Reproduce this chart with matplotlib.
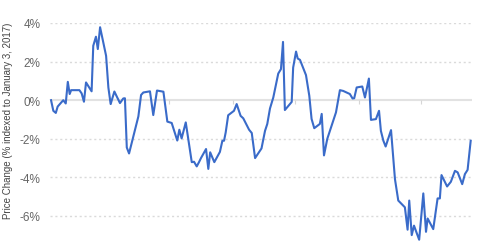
import matplotlib
matplotlib.use("Agg")
import matplotlib.pyplot as plt

# days since January 3, 2017 and price change (%)
days = [0.0, 1.1, 2.3, 3.2, 5.9, 7.1, 8.1, 9.0, 9.7, 13.7, 14.8, 15.9, 16.9, 19.6,
        20.4, 21.7, 22.6, 23.7, 26.6, 27.7, 28.8, 30.6, 33.3, 34.9, 35.7, 36.6,
        37.7, 42.2, 43.5, 44.6, 47.8, 49.4, 51.2, 54.3, 56.2, 58.3, 61.0, 62.0,
        63.1, 65.1, 68.0, 69.1, 70.4, 71.5, 72.5, 74.9, 76.0, 76.9, 78.9, 81.6,
        82.8, 83.6, 84.4, 85.6, 88.4, 89.7, 91.6, 92.9, 95.7, 97.0, 98.6, 101.7,
        103.4, 104.5, 105.8, 107.4, 109.8, 111.1, 112.1, 113.0, 116.3, 117.0,
        118.4, 119.2, 120.3, 123.2, 124.8, 125.9, 127.2, 129.9, 130.8, 131.9,
        133.5, 137.7, 139.6, 141.2, 144.4, 145.7, 146.5, 147.7, 150.4, 151.7,
        153.6, 154.6, 157.0, 158.5, 159.4, 160.6, 161.7, 164.3, 166.2, 167.8,
        171.0, 172.3, 173.1, 174.3, 175.4, 177.9, 179.9, 181.2, 182.0, 184.7,
        186.8, 187.9, 188.7, 191.4, 193.2, 195.2, 196.5, 198.7, 200.0, 201.3,
        202.8]
change = [0.0, -0.55, -0.66, -0.33, 0.0, -0.17, 0.95, 0.32, 0.52, 0.52, 0.35, -0.08,
          0.92, 0.46, 2.82, 3.29, 2.65, 3.78, 2.3, 0.66, -0.2, 0.45, -0.15, 0.09,
          0.1, -2.45, -2.76, -0.84, 0.27, 0.4, 0.46, -0.77, 0.5, 0.44, -1.11,
          -1.18, -2.09, -1.53, -1.98, -1.15, -3.21, -3.19, -3.43, -3.21, -2.99,
          -2.53, -3.56, -2.7, -3.21, -2.68, -2.1, -2.1, -1.67, -0.78, -0.55, -0.2,
          -0.81, -0.94, -1.53, -1.7, -3.0, -2.5, -1.59, -1.23, -0.43, 0.14, 1.38,
          1.61, 3.02, -0.51, -0.09, 1.69, 2.52, 2.16, 2.09, 1.3, 0.23, -0.97,
          -1.45, -1.23, -0.71, -2.86, -2.0, -0.63, 0.52, 0.48, 0.32, 0.09, 0.1,
          0.66, 0.71, 0.14, 1.12, -1.02, -0.98, -0.55, -1.59, -2.1, -2.4, -1.55,
          -4.09, -5.2, -5.55, -6.71, -5.2, -6.99, -6.5, -7.23, -4.83, -6.82,
          -6.13, -6.68, -5.09, -5.09, -3.88, -4.47, -4.23, -3.66, -3.74, -4.35,
          -3.83, -3.61, -2.1]
yticks = [4, 2, 0, -2, -4, -6, -8]
month_starts = [29, 57, 88, 118, 149, 179]

fig = plt.figure(figsize=(4.8, 2.51), dpi=100)
ax = fig.add_axes([0.1042, -0.0183, 0.879, 0.9227])

# grid
for v in yticks:
    if v == 0:
        ax.axhline(0, color='#e2e2e2', lw=1.5, zorder=1)
    else:
        ax.axhline(v, color='#dadada', lw=1, linestyle=(0, (1.5, 2)), zorder=1)
ax.vlines(month_starts, -0.18, 0, color='#d6d6d6', lw=0.8, zorder=1)

ax.plot(days, change, color='#3a6bc9', lw=1.5, zorder=3, clip_on=False)

ax.set_xlim(-0.5, 203.4)
ax.set_ylim(-8, 4)
ax.set_xticks([])
ax.set_yticks(yticks)
ax.set_yticklabels(['%d%%' % v for v in yticks], fontsize=8.5, color='#666666',
                   family='Liberation Sans')
ax.tick_params(axis='y', length=0, pad=7)
for s in ax.spines.values():
    s.set_visible(False)

fig.text(0.017, 0.52, 'Price Change (% indexed to January 3, 2017)', rotation=90,
         ha='center', va='center', fontsize=7, color='#444444', family='Liberation Sans')

plt.savefig('out.png', dpi=100)
